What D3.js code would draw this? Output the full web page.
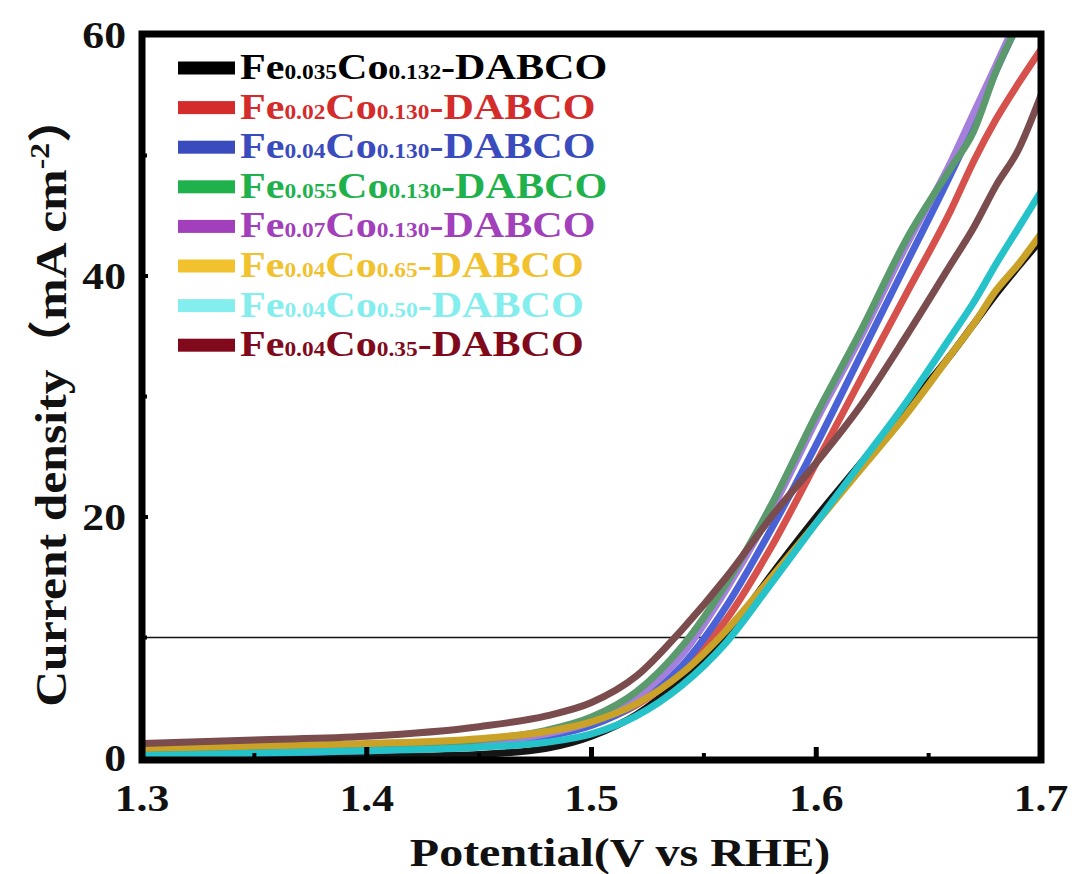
<!DOCTYPE html>
<html><head><meta charset="utf-8">
<script src="https://cdn.jsdelivr.net/npm/d3@7"></script>
<style>html,body{margin:0;padding:0;background:#fff;}svg{display:block;}</style>
</head><body>
<svg id="chart" width="1073" height="874"></svg>
<script>
// ---- data ----
const potential = [1.30,1.35,1.40,1.45,1.48,1.50,1.52,1.54,1.56,1.58,1.60,1.62,1.64,1.66,1.67,1.68,1.69,1.70];
const fe0035co0132 = [0.05,0.05,0.1,0.3,0.8,1.8,3.6,6.5,10.2,15.2,20.0,24.5,29.0,33.5,36,38.5,40.8,43];
const fe002co0130  = [0.4,0.5,0.7,1.2,1.9,2.8,4.4,7.2,11.5,17.5,24.5,31.5,38.5,45.5,49.5,53,56,58.8];
const fe004co0130  = [0.3,0.4,0.6,1.1,1.8,2.7,4.5,7.6,12.6,19.0,26.0,33.5,41.0,48.5,52.5,57,61,65];
const fe0055co0130 = [0.5,0.7,0.9,1.5,2.3,3.4,5.5,9.2,14.5,21.0,28.5,35.5,43.0,49.0,52,57,61,65];
const fe007co0130  = [0.4,0.6,0.8,1.3,2.0,3.0,5.0,8.5,14.0,20.5,28.0,35.0,42.5,49.5,53.5,57.5,61.5,65];
const fe004co065   = [0.8,1.0,1.2,1.6,2.2,3.0,4.5,7.0,10.6,15.0,19.5,24.0,28.5,33.5,36,38.8,41,43.5];
const fe004co050   = [0.2,0.4,0.6,0.9,1.3,2.0,3.5,6.0,9.6,14.5,19.5,24.5,29.5,35.0,37.8,41.0,44,47];
const fe004co035   = [1.2,1.5,1.8,2.6,3.5,4.6,6.8,10.6,15.0,20.0,24.5,29.3,35.0,41.0,44,47.5,50.5,55];

// legend labels: [Fe subscript, Co subscript]
const legendSubs = [["0.035","0.132"],["0.02","0.130"],["0.04","0.130"],["0.055","0.130"],["0.07","0.130"],["0.04","0.65"],["0.04","0.50"],["0.04","0.35"]];
const legendColors = ["#000000","#d42b2b","#3a4bbd","#1fb24c","#a23fba","#f2c12e","#84eeee","#800a1c"];
const lineColors   = ["#151515","#d6504c","#4a62d6","#5a9a6c","#a47fdc","#c9a227","#26c2c9","#7a4c4e"];
const seriesList = [fe0035co0132, fe002co0130, fe004co0130, fe0055co0130, fe007co0130, fe004co065, fe004co050, fe004co035];
const drawOrder = [0,1,2,4,3,5,6,7];
const xTicks = [1.3,1.4,1.5,1.6,1.7];
const yTicks = [0,20,40,60];
const refLine = 10;

// ---- layout ----
const svg = d3.select("#chart");
const L = 142, R = 1041, T = 35, B = 758;
const x = d3.scaleLinear().domain([1.3,1.7]).range([L,R]);
const y = d3.scaleLinear().domain([0,60]).range([B,T]);
const FONT = "'Liberation Serif','Times New Roman',serif";

svg.append("defs").append("clipPath").attr("id","clip")
  .append("rect").attr("x",L).attr("y",T).attr("width",R-L).attr("height",B-T+3);

// reference line at 10 mA cm-2
svg.append("line").attr("x1",L).attr("x2",R).attr("y1",y(refLine)).attr("y2",y(refLine))
  .attr("stroke","#111").attr("stroke-width",1.6);

// curves
const line = d3.line().x(d=>x(d[0])).y(d=>y(d[1])).curve(d3.curveMonotoneX);
const g = svg.append("g").attr("clip-path","url(#clip)");
drawOrder.forEach(i=>{
  const pts = potential.map((v,k)=>[v, seriesList[i][k]]);
  g.append("path").attr("d",line(pts)).attr("fill","none")
    .attr("stroke",lineColors[i]).attr("stroke-width",7).attr("stroke-linejoin","round");
});

// ticks (inward)
const xMinor = [1.35,1.45,1.55,1.65];
const xMajor = [1.4,1.5,1.6];
svg.selectAll(".xmaj").data(xMajor).enter().append("line")
  .attr("x1",d=>x(d)).attr("x2",d=>x(d)).attr("y1",B).attr("y2",B-11)
  .attr("stroke","#000").attr("stroke-width",5);
svg.selectAll(".xmin").data(xMinor).enter().append("line")
  .attr("x1",d=>x(d)).attr("x2",d=>x(d)).attr("y1",B).attr("y2",B-5)
  .attr("stroke","#000").attr("stroke-width",4);
const yMinor = [10,30,50];
const yMajor = [20,40];
svg.selectAll(".ymaj").data(yMajor).enter().append("line")
  .attr("x1",L).attr("x2",L+6).attr("y1",d=>y(d)).attr("y2",d=>y(d))
  .attr("stroke","#000").attr("stroke-width",4);
svg.selectAll(".ymin").data(yMinor).enter().append("line")
  .attr("x1",L).attr("x2",L+5).attr("y1",d=>y(d)).attr("y2",d=>y(d))
  .attr("stroke","#000").attr("stroke-width",4);

// frame
svg.append("rect").attr("x",L).attr("y",T-1).attr("width",R-L).attr("height",B-T+3)
  .attr("fill","none").attr("stroke","#000").attr("stroke-width",7);

// tick labels
xTicks.forEach(t=>{
  svg.append("text").attr("transform",`translate(${x(t)},811) scale(1.12,1)`)
    .attr("text-anchor","middle").attr("font-family",FONT).attr("font-weight","bold")
    .attr("font-size",39).attr("fill","#111").text(d3.format(".1f")(t));
});
yTicks.forEach(t=>{
  svg.append("text").attr("transform",`translate(126,${y(t)+13}) scale(1.12,1)`)
    .attr("text-anchor","end").attr("font-family",FONT).attr("font-weight","bold")
    .attr("font-size",39).attr("fill","#111").text(t);
});

// axis titles
svg.append("text").attr("transform","translate(620,866) scale(1.2,1)")
  .attr("text-anchor","middle").attr("font-family",FONT).attr("font-weight","bold")
  .attr("font-size",40).attr("fill","#111").text("Potential(V vs RHE)");

const yt = svg.append("text").attr("transform","translate(66,400) rotate(-90) scale(1.13,1)")
  .attr("text-anchor","middle").attr("font-family",FONT).attr("font-weight","bold")
  .attr("font-size",44).attr("fill","#111");
yt.append("tspan").text("Current density");
yt.append("tspan").attr("font-family","'Noto Sans CJK SC',"+FONT).text("（");
yt.append("tspan").text("mA cm");
yt.append("tspan").attr("font-size",28).attr("dy",-17).text("-2");
yt.append("tspan").attr("dy",17).attr("font-family","'Noto Sans CJK SC',"+FONT).text("）");

// legend
const lg = svg.append("g");
legendSubs.forEach((s,i)=>{
  const cy = 68 + i*39.6;
  lg.append("rect").attr("x",178).attr("y",cy-6.5).attr("width",57).attr("height",13)
    .attr("fill",legendColors[i]);
  const t = lg.append("text").attr("transform",`translate(240,${cy+11}) scale(1.17,1)`)
    .attr("font-family",FONT).attr("font-weight","bold").attr("font-size",36)
    .attr("fill",legendColors[i]);
  t.append("tspan").text("Fe");
  t.append("tspan").attr("font-size",20).text(s[0]);
  t.append("tspan").text("Co");
  t.append("tspan").attr("font-size",20).text(s[1]);
  t.append("tspan").text("-DABCO");
});
</script>
</body></html>
